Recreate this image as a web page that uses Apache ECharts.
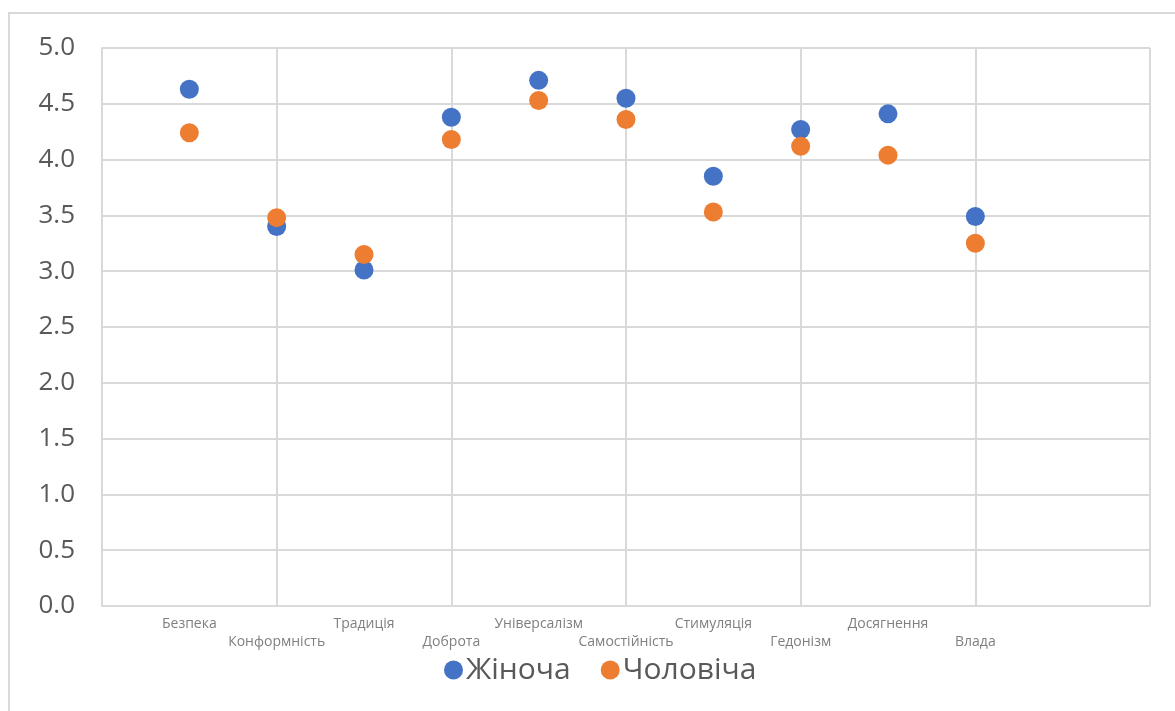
<!DOCTYPE html>
<html>
<head>
<meta charset="utf-8">
<script src="https://cdn.jsdelivr.net/npm/echarts@6/dist/echarts.min.js"></script>
<style>
  html, body { margin: 0; padding: 0; background: #fff; }
  #chart { width: 1175px; height: 711px; }
</style>
</head>
<body>
<div id="chart"></div>
<script>
// категорії цінностей (по осі X стоять на позиціях 1..10)
const categories = ["Безпека", "Конформність", "Традиція", "Доброта", "Універсалізм",
  "Самостійність", "Стимуляція", "Гедонізм", "Досягнення", "Влада"];
const positions = [1, 2, 3, 4, 5, 6, 7, 8, 9, 10];
const female = [4.63, 3.40, 3.01, 4.38, 4.71, 4.55, 3.85, 4.27, 4.41, 3.49];
const male = [4.24, 3.48, 3.15, 4.18, 4.53, 4.36, 3.53, 4.12, 4.04, 3.25];
const seriesNames = ["Жіноча", "Чоловіча"];

const grey = "#d9d9d9";
const textColor = "#595959";
const font = "Open Sans";

const options = {
  animation: false,
  textStyle: { fontFamily: font },
  graphic: [
    {
      type: "rect",
      shape: { x: 9, y: 13, width: 1300, height: 900 },
      style: { fill: "none", stroke: grey, lineWidth: 2 },
      silent: true,
    },
  ],
  grid: {
    left: 102,
    right: 25,
    top: 48,
    bottom: 105,
  },
  legend: {
    data: seriesNames,
    left: 439,
    top: 650,
    icon: "circle",
    itemWidth: 19,
    itemHeight: 19,
    itemGap: 30,
    itemStyle: { borderWidth: 0 },
    textStyle: { fontSize: 30, color: textColor, fontFamily: font, padding: [0, 0, 0, -2] },
  },
  xAxis: [
    {
      type: "value",
      min: 0,
      max: 12,
      interval: 2,
      axisLine: { show: true, lineStyle: { color: grey, width: 2 } },
      axisTick: { show: false },
      axisLabel: { show: false },
      splitLine: { show: true, lineStyle: { color: grey, width: 2 } },
    },
    {
      // підписи категорій, через одну — нижчим рядком
      type: "value",
      position: "bottom",
      min: 0,
      max: 12,
      interval: 1,
      axisLine: { show: false },
      axisTick: { show: false },
      splitLine: { show: false },
      axisLabel: {
        show: true,
        margin: 9,
        fontSize: 14,
        lineHeight: 18,
        color: "#7f7f7f",
        fontFamily: font,
        formatter: (v) => {
          const i = positions.indexOf(v);
          if (i < 0) return "";
          return i % 2 === 0 ? categories[i] : "\n" + categories[i];
        },
      },
    },
  ],
  yAxis: {
    type: "value",
    min: 0,
    max: 5,
    interval: 0.5,
    axisLine: { show: true, lineStyle: { color: grey, width: 2 } },
    axisTick: { show: false },
    splitLine: { show: true, lineStyle: { color: grey, width: 2 } },
    axisLabel: {
      margin: 27,
      fontSize: 26,
      color: textColor,
      fontFamily: font,
      formatter: (v) => v.toFixed(1),
    },
  },
  series: [
    {
      name: seriesNames[0],
      type: "scatter",
      symbolSize: 19,
      itemStyle: { color: "#4472c4", opacity: 1 },
      data: positions.map((x, i) => [x, female[i]]),
    },
    {
      name: seriesNames[1],
      type: "scatter",
      symbolSize: 19,
      itemStyle: { color: "#ed7d31", opacity: 1 },
      data: positions.map((x, i) => [x, male[i]]),
    },
  ],
};

const chart = echarts.init(document.getElementById("chart"));
chart.setOption(options);
</script>
</body>
</html>
